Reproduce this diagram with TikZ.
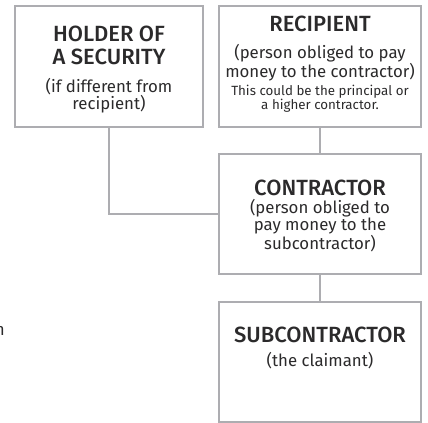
\documentclass[tikz,border=0pt]{standalone}
\usepackage{fontspec}
\setmainfont{Fira Sans}[BoldFont={Fira Sans Medium}]
\usetikzlibrary{positioning}

\definecolor{boxgray}{HTML}{ADADB1}
\definecolor{inkgray}{HTML}{2B2A2B}

\tikzset{
    box/.style={draw=boxgray, line width=1.9pt, inner sep=0pt, outer sep=0pt},
    link/.style={draw=boxgray, line width=1.9pt},
    head/.style={anchor=base, align=center, inner sep=0pt, text=inkgray,
        font=\bfseries\fontsize{16.5}{17.6}\selectfont},
    note/.style={anchor=base, align=center, inner sep=0pt, text=inkgray,
        font=\fontsize{12.6}{10.65}\selectfont},
    small/.style={anchor=base, align=center, inner sep=0pt, text=inkgray,
        font=\fontsize{10}{9.5}\selectfont}
}

\begin{document}
\begin{tikzpicture}[x=0.75pt,y=-0.75pt]
        \useasboundingbox (0,0) rectangle (428,423);

        % boxes
        \node[box, minimum width=141pt, minimum height=90.75pt] (holder) at (109,66.5) {};
        \node[box, minimum width=151.5pt, minimum height=90.75pt] (recipient) at (320,66.5) {};
        \node[box, minimum width=151.5pt, minimum height=90pt] (contractor) at (320,214) {};
        \node[box, minimum width=151.5pt, minimum height=90pt] (sub) at (320,362) {};

        % connectors
        \draw[link] (holder.south) |- (contractor.west);
        \draw[link] (recipient.south) -- (contractor.north);
        \draw[link] (contractor.south) -- (sub.north);

        % texts (base = last line)
        \node[head] (holderhead) at (109,64.5) {HOLDER OF\\A SECURITY};
        \node[note] (holdernote) at (109,110) {(if different from\\recipient)};

        \node[head] (recipienthead) at (320,31.7) {RECIPIENT};
        \node[note] (recipientnote) at (320,78) {(person obliged to pay\\money to the contractor)};
        \node[small] (recipientsmall) at (320,110) {This could be the principal or\\a higher contractor.};

        \node[head] (contractorhead) at (320,195.7) {CONTRACTOR};
        \node[note] (contractornote) at (320,250) {(person obliged to\\pay money to the\\subcontractor)};

        \node[head] (subhead) at (320,343) {SUBCONTRACTOR};
        \node[note] (subnote) at (320,366.5) {(the claimant)};

        \node[note, anchor=base east] (cutword) at (5,336) {n};
\end{tikzpicture}
\end{document}
